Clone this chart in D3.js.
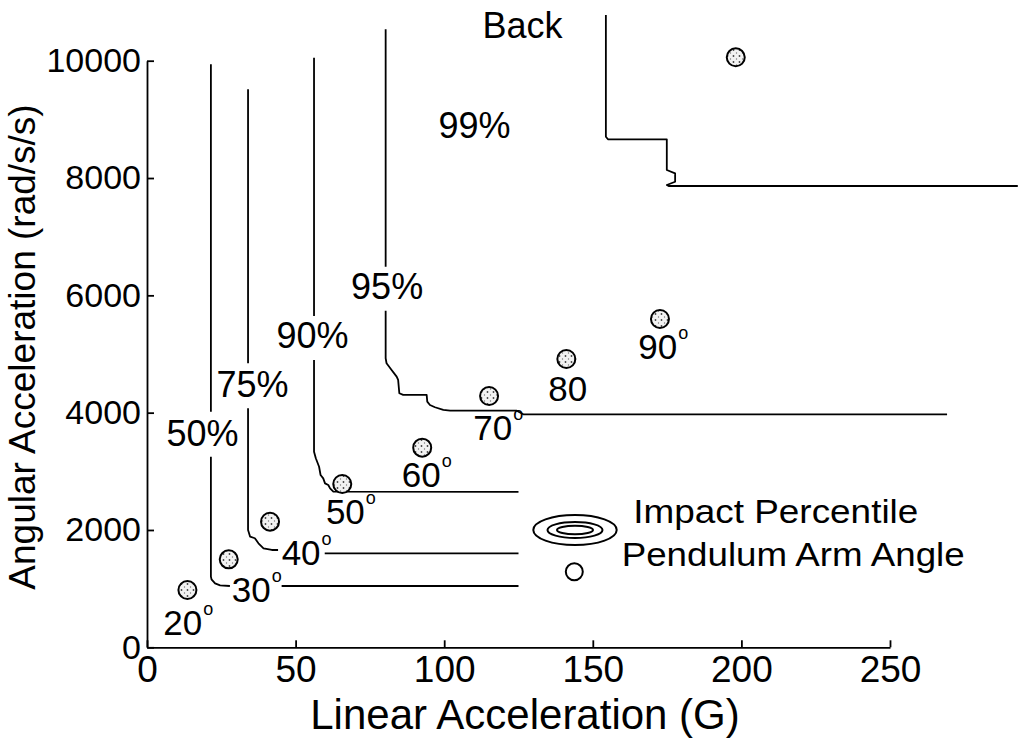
<!DOCTYPE html>
<html>
<head>
<meta charset="utf-8">
<script src="https://cdn.jsdelivr.net/npm/d3@7/dist/d3.min.js"></script>
<style>
  html, body { margin: 0; padding: 0; background: #fff; }
  svg { display: block; font-family: "Liberation Sans", Arial, Helvetica, sans-serif; }
</style>
</head>
<body>
<svg id="chart" width="1018" height="742"></svg>
<script>
// Axis ticks
const xTicks = [0, 50, 100, 150, 200, 250];
const yTicks = [0, 2000, 4000, 6000, 8000, 10000];

// Injury-risk percentile contours (linear G, angular rad/s/s); null = break for a label
const contour50 = [[21.5, 9939], [21.5, 4016], null,
  [21.5, 3249], [21.5, 1204], [21.7, 1159], [22.9, 1091], [24.6, 1057], [27.9, 1045], null,
  [45.3, 1045], [125, 1045]];
const contour75 = [[34.0, 9512], [34.0, 4841], null,
  [34.0, 4074], [34.0, 2000], [34.7, 1886], [36.3, 1859], [37.5, 1773], [39.2, 1688], [42.0, 1659], [44.1, 1659], null,
  [59.8, 1602], [125, 1602]];
const contour90 = [[56.2, 10051], [56.2, 5648], null,
  [56.2, 4898], [56.2, 3334], [56.8, 3222], [57.9, 3078], [58.4, 2937], [59.3, 2880], [59.9, 2795],
  [61.0, 2766], [61.6, 2710], [62.7, 2653], [125, 2648]];
const contour95 = [[80.3, 10535], [80.3, 6488], null,
  [80.3, 5738], [80.3, 4927], [80.6, 4842], [82.3, 4728], [84.0, 4614], [84.5, 4558], [84.9, 4331],
  [86.2, 4302], [94.1, 4302], [94.3, 4188], [95.2, 4131], [96.9, 4092], [99.7, 4046], [102.0, 4034],
  [124.4, 4034], [126.6, 3972], [269.2, 3972]];
const contour99 = [[154.4, 10779], [154.4, 8704], [155.1, 8660], [174.9, 8660], [174.9, 8137],
  [177.7, 8080], [177.7, 7937], [174.9, 7881], [175.5, 7864], [293, 7864]];

// Percentile labels (text centred on the given point, baseline)
const percentText = ["50%", "75%", "90%", "95%", "99%"];
const percentX = [18.7, 35.5, 55.7, 80.8, 110.2];
const percentY = [3437, 4272, 5097, 5932, 8677];

// Pendulum impacts
const impactLinear = [13.6, 27.5, 41.4, 65.7, 92.6, 115.1, 141.1, 172.6, 198.1];
const impactAngular = [977, 1500, 2141, 2784, 3403, 4284, 4915, 5597, 10058];

// Pendulum arm angle labels (start of text, baseline)
const angleText = ["20", "30", "40", "50", "60", "70", "80", "90"];
const angleDegree = [true, true, true, true, true, true, false, true];
const angleLabelX = [5.5, 28.5, 45.3, 60.2, 85.7, 109.8, 135.0, 165.3];
const angleLabelY = [210, 777, 1400, 2110, 2728, 3534, 4204, 4910];

const legendText = ["Impact Percentile", "Pendulum Arm Angle"];

const svg = d3.select("#chart");
const x = d3.scaleLinear().domain([0, 250]).range([147, 890]);
const y = d3.scaleLinear().domain([0, 10000]).range([647.3, 60.7]);

// stippled fill for the impact markers
const defs = svg.append("defs");
const pat = defs.append("pattern").attr("id", "stipple")
  .attr("patternUnits", "userSpaceOnUse").attr("width", 6).attr("height", 6);
pat.append("rect").attr("width", 6).attr("height", 6).attr("fill", "#f2f2f2");
pat.append("circle").attr("cx", 1.5).attr("cy", 2).attr("r", 0.9).attr("fill", "#444");
pat.append("circle").attr("cx", 4.5).attr("cy", 5).attr("r", 0.7).attr("fill", "#777");

// axes (ticks point inward)
const xAxis = d3.axisBottom(x).tickValues(xTicks).tickFormat(d3.format("d"))
  .tickSizeInner(-7).tickSizeOuter(0).tickPadding(8);
const yAxis = d3.axisLeft(y).tickValues(yTicks).tickFormat(d3.format("d"))
  .tickSizeInner(-7).tickSizeOuter(0).tickPadding(6);

const gx = svg.append("g").attr("transform", `translate(0,${y(0)})`).call(xAxis);
const gy = svg.append("g").attr("transform", `translate(${x(0)},0)`).call(yAxis);
[gx, gy].forEach(g => {
  g.select(".domain").attr("stroke", "#000").attr("stroke-width", 1.8);
  g.selectAll(".tick line").attr("stroke", "#000").attr("stroke-width", 1.8);
  g.selectAll(".tick text").attr("fill", "#000")
    .style("font-family", '"Liberation Sans", Arial, sans-serif');
});
gx.selectAll(".tick text").style("font-size", "37px");
gy.selectAll(".tick text").style("font-size", "34px");

// axis titles
svg.append("text")
  .attr("x", 525).attr("y", 729)
  .attr("text-anchor", "middle")
  .style("font-size", "42px")
  .text("Linear Acceleration (G)");
svg.append("text")
  .attr("transform", "translate(35,347) rotate(-90)")
  .attr("text-anchor", "middle")
  .style("font-size", "37px")
  .text("Angular Acceleration (rad/s/s)");

// title
svg.append("text")
  .attr("x", 522.5).attr("y", 38)
  .attr("text-anchor", "middle")
  .style("font-size", "36px")
  .text("Back");

// contours
const line = d3.line().defined(d => d !== null).x(d => x(d[0])).y(d => y(d[1]));
const contours = [contour50, contour75, contour90, contour95, contour99];
svg.append("g").selectAll("path").data(contours).join("path")
  .attr("d", line)
  .attr("fill", "none")
  .attr("stroke", "#000")
  .attr("stroke-width", 1.8)
  .attr("stroke-linejoin", "round");

// percentile labels
svg.append("g").selectAll("text").data(percentText).join("text")
  .attr("x", (d, i) => x(percentX[i]))
  .attr("y", (d, i) => y(percentY[i]))
  .attr("text-anchor", "middle")
  .style("font-size", "36px")
  .text(d => d);

// impact markers
svg.append("g").selectAll("circle").data(impactLinear).join("circle")
  .attr("cx", d => x(d))
  .attr("cy", (d, i) => y(impactAngular[i]))
  .attr("r", 9)
  .attr("fill", "url(#stipple)")
  .attr("stroke", "#000")
  .attr("stroke-width", 2);

// pendulum angle labels
const al = svg.append("g").selectAll("text").data(angleText).join("text")
  .attr("x", (d, i) => x(angleLabelX[i]))
  .attr("y", (d, i) => y(angleLabelY[i]))
  .style("font-size", "35px");
al.append("tspan").text(d => d);
al.filter((d, i) => angleDegree[i]).append("tspan")
  .attr("dy", -20).attr("dx", 1)
  .style("font-size", "18px")
  .text("o");

// legend
const lg = svg.append("g").attr("transform", "translate(575,530)");
[[41.7, 15], [27.5, 8], [18, 4.3]].forEach(r => {
  lg.append("ellipse").attr("rx", r[0]).attr("ry", r[1])
    .attr("fill", "none").attr("stroke", "#000").attr("stroke-width", 2);
});
lg.append("circle").attr("cx", -0.7).attr("cy", 41.7).attr("r", 8.5)
  .attr("fill", "#fff").attr("stroke", "#000").attr("stroke-width", 2);
lg.append("text").attr("x", 58.3).attr("y", -6.7)
  .style("font-size", "33px")
  .attr("textLength", 285).attr("lengthAdjust", "spacingAndGlyphs")
  .text(legendText[0]);
lg.append("text").attr("x", 46.7).attr("y", 36)
  .style("font-size", "33px")
  .attr("textLength", 343).attr("lengthAdjust", "spacingAndGlyphs")
  .text(legendText[1]);
</script>
</body>
</html>
